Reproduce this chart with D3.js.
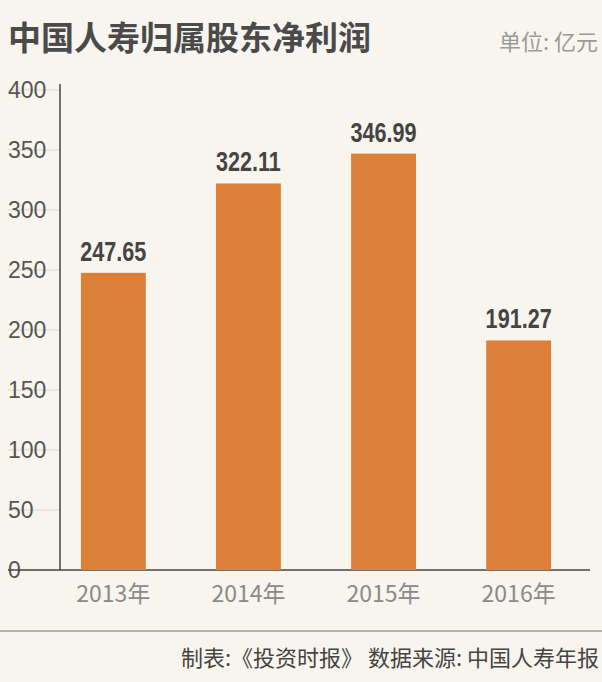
<!DOCTYPE html>
<html><head><meta charset="utf-8">
<script src="https://cdn.jsdelivr.net/npm/d3@7"></script>
<style>body{margin:0;background:#f8f5ee;}svg{display:block;}</style>
</head><body>
<svg id="chart" width="602" height="682"></svg>
<script>
// Data
const years = ["2013年", "2014年", "2015年", "2016年"];
const profits = [247.65, 322.11, 346.99, 191.27];
const yTicks = [0, 50, 100, 150, 200, 250, 300, 350, 400];

const svg = d3.select("#chart");
svg.append("rect").attr("width", 602).attr("height", 682).attr("fill", "#f8f5ee");

// Title and unit
svg.append("text").attr("x", 8).attr("y", 50)
  .attr("font-family", "Noto Sans CJK SC").attr("font-weight", "bold")
  .attr("font-size", 33).attr("fill", "#4a4a4a").text("中国人寿归属股东净利润");
svg.append("text").attr("x", 598).attr("y", 50).attr("text-anchor", "end")
  .attr("font-family", "Noto Sans CJK SC").attr("font-size", 22)
  .attr("fill", "#9a9a9a").text("单位: 亿元");

let y = d3.scaleLinear().domain([0, 400]).range([570, 90]);
let x = d3.scaleBand().domain(years).range([60, 572]).paddingInner(0.52).paddingOuter(0.155);

// Tick lines and labels
yTicks.forEach(t => {
  svg.append("line").attr("x1", 8).attr("x2", 60).attr("y1", y(t)).attr("y2", y(t))
    .attr("stroke", "#d9d5cc").attr("stroke-width", 1);
  svg.append("text").attr("x", 8).attr("y", y(t) + 8)
    .attr("font-family", "Liberation Sans").attr("font-size", 23)
    .attr("fill", "#555").text(t);
});
svg.append("line").attr("x1", 60).attr("x2", 60).attr("y1", 84).attr("y2", 570)
  .attr("stroke", "#444").attr("stroke-width", 1.5);
svg.append("line").attr("x1", 8).attr("x2", 590).attr("y1", 570).attr("y2", 570)
  .attr("stroke", "#444").attr("stroke-width", 1.5);

// Bars
svg.selectAll(".bar").data(profits).join("rect")
  .attr("x", (d, i) => x(years[i])).attr("width", x.bandwidth())
  .attr("y", d => y(d)).attr("height", d => 570 - y(d)).attr("fill", "#dc7f38");

// Value labels (condensed bold)
svg.selectAll(".val").data(profits).join("text")
  .attr("transform", (d, i) => `translate(${x(years[i]) + x.bandwidth() / 2},${y(d) - 12}) scale(0.8,1)`)
  .attr("text-anchor", "middle").attr("font-family", "Liberation Sans")
  .attr("font-weight", "bold").attr("font-size", 27).attr("fill", "#444")
  .text(d => d.toFixed(2));

// Category labels
svg.selectAll(".cat").data(years).join("text")
  .attr("x", d => x(d) + x.bandwidth() / 2).attr("y", 602).attr("text-anchor", "middle")
  .attr("font-family", "Noto Sans CJK SC").attr("font-size", 23).attr("fill", "#8a8a8a")
  .text(d => d);

// Footer
svg.append("line").attr("x1", 0).attr("x2", 602).attr("y1", 631).attr("y2", 631)
  .attr("stroke", "#b5b1a8").attr("stroke-width", 2);
svg.append("text").attr("x", 599).attr("y", 666).attr("text-anchor", "end")
  .attr("font-family", "Noto Sans CJK SC").attr("font-size", 22).attr("fill", "#444")
  .text("制表:《投资时报》  数据来源: 中国人寿年报");
</script>
</body></html>
